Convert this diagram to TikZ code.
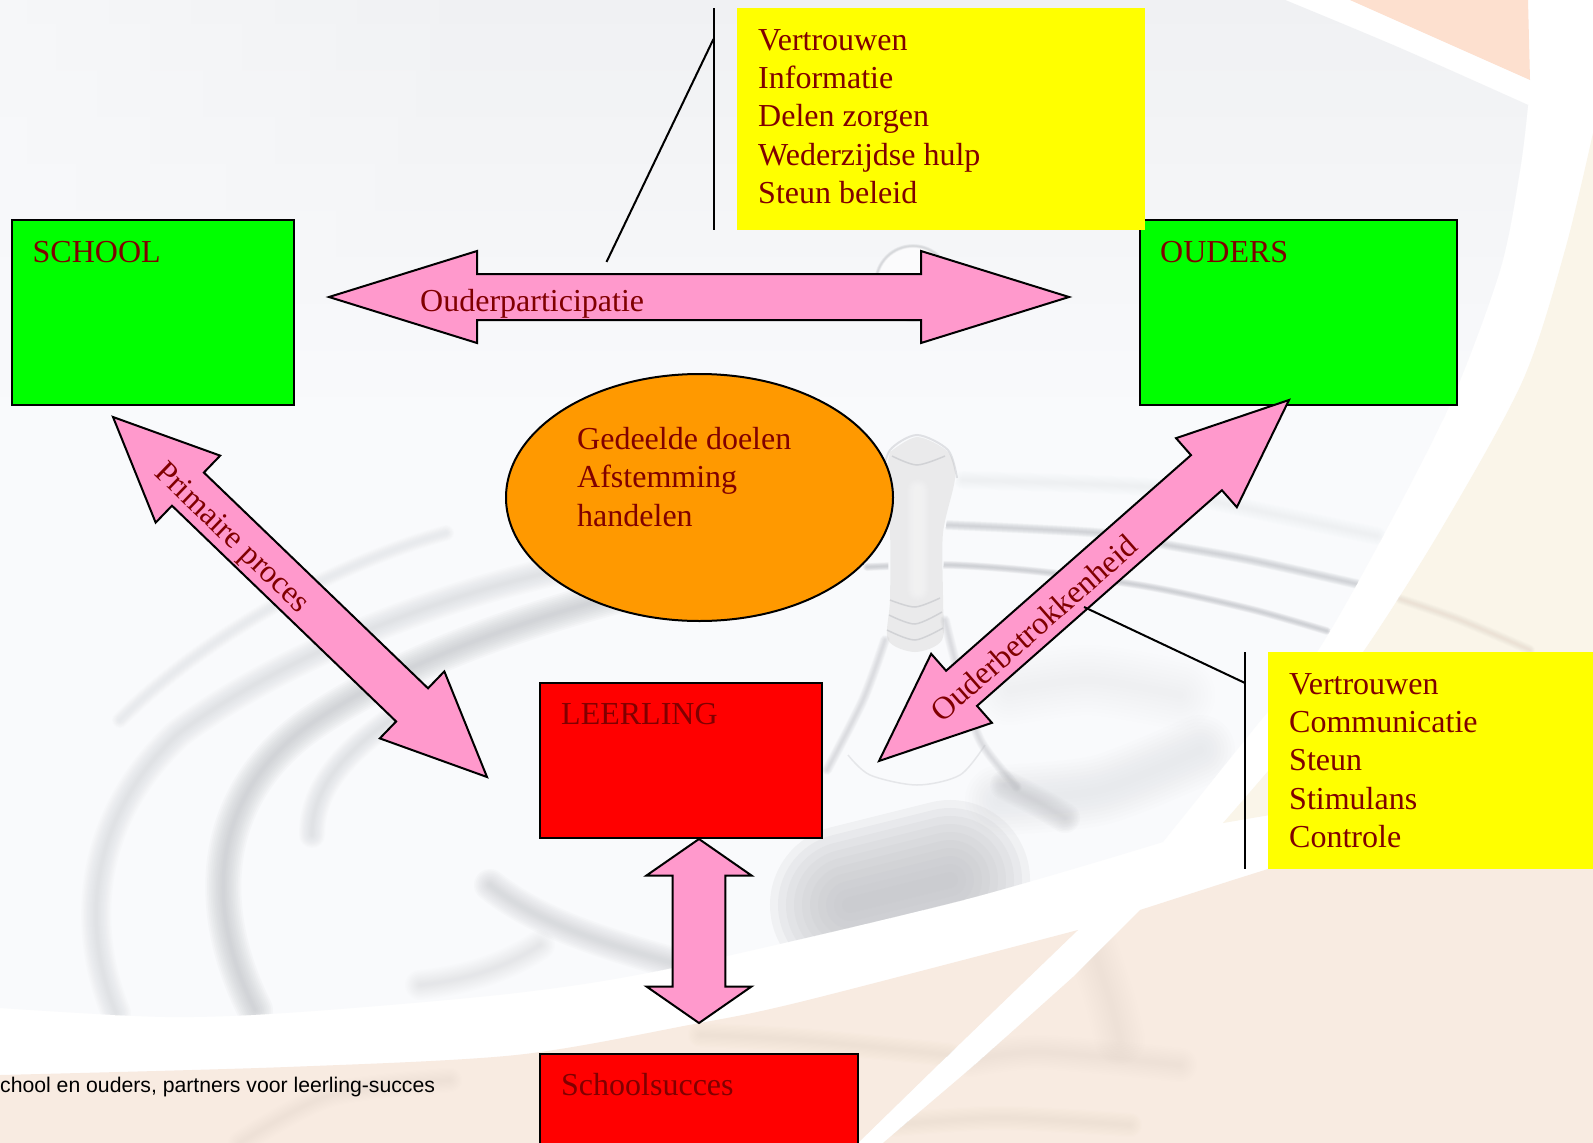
\documentclass[tikz,border=0pt]{standalone}
\usepackage{fontspec}
\setmainfont{Liberation Serif}
\newfontfamily\footfont{Liberation Sans}
\usetikzlibrary{calc,shapes.geometric,fadings}
\definecolor{tcol}{HTML}{800000}
\definecolor{pinkc}{HTML}{FF99CC}
\definecolor{greenc}{HTML}{00FF00}
\definecolor{yelc}{HTML}{FFFF00}
\definecolor{orac}{HTML}{FF9900}
\definecolor{redc}{HTML}{FF0000}
\definecolor{grayt}{HTML}{F0F1F3}
\definecolor{graym}{HTML}{F9FAFC}
\definecolor{paled}{HTML}{FAF5E9}
\definecolor{peachb}{HTML}{F8EBE1}
\definecolor{peacht}{HTML}{FDE0CF}
\definecolor{streak}{HTML}{DFCFC2}
\definecolor{rip}{HTML}{B9BBC0}
\definecolor{dark}{HTML}{C6C7CB}
\tikzset{
  box/.style={draw=black,line width=2pt,inner sep=0pt,outer sep=0pt,anchor=north west},
  note/.style={fill=yelc,inner sep=0pt,outer sep=0pt,anchor=north west},
  lbl/.style={text=tcol,inner sep=0pt,font=\fontsize{32}{38.4}\selectfont,anchor=base west},
  slantlbl/.style={text=tcol,inner sep=0pt,font=\fontsize{32}{38.4}\selectfont,anchor=center},
  blockarrow/.style={draw=black,fill=pinkc,line width=2pt,line join=miter},
  leader/.style={draw=black,line width=2pt},
}
% soft (blurred) stroke: colour, width, opacity per level, path
\newcommand{\softline}[4]{\foreach \f in {1,.9,.8,.7,.6,.5,.4,.3,.2,.1}{\draw[color=#1,line width=\f*#2,opacity=#3,line cap=round,line join=round] #4;}}
% double block arrow between two named coordinates
\newcommand{\dblarrow}[5]{%
  \coordinate (#1-p) at ($(#1)!#5!(#2)$);
  \coordinate (#1-q) at ($(#2)!#5!(#1)$);
  \draw[blockarrow] (#1) -- ($(#1-p)!#4!90:(#1)$) -- ($(#1-p)!#3!90:(#1)$)
    -- ($(#1-q)!#3!-90:(#2)$) -- ($(#1-q)!#4!-90:(#2)$) -- (#2)
    -- ($(#1-q)!#4!90:(#2)$) -- ($(#1-q)!#3!90:(#2)$)
    -- ($(#1-p)!#3!-90:(#1)$) -- ($(#1-p)!#4!-90:(#1)$) -- cycle;}
\begin{document}
\begin{tikzpicture}[x=1pt,y=-1pt]
\useasboundingbox (0,0) rectangle (1593,1143);
\clip (0,0) rectangle (1593,1143);
\fill[white] (0,0) rectangle (1593,1143);

% --- background: peach and pale areas
\fill[peacht] (1350,0) -- (1528,0) -- (1530,80) -- cycle;
\begin{scope}
\clip plot[smooth] coordinates {(1593,133)(1565,250)(1523,380)(1443,526)(1363,652)(1290,745)(1223,823)} -- (1593,760) -- cycle;
\fill[paled] (1200,100) rectangle (1593,900);
\softline{streak}{10pt}{.05}{plot[smooth] coordinates {(1400,599)(1460,620)(1530,650)}}
\end{scope}
\begin{scope}
\clip (0,1075) -- plot[smooth] coordinates {(0,1075)(287,1067)(516,1055)(689,1025)(800,1002)(1078,930)} -- (940,1063) -- (858,1143) -- (0,1143) -- cycle;
\fill[peachb] (0,900) rectangle (1100,1143);
\softline{streak}{24pt}{.035}{plot[smooth] coordinates {(700,1035)(800,1040)(950,1055)}}
\softline{streak}{24pt}{.02}{plot[smooth] coordinates {(240,1143)(330,1095)(450,1080)}}
\end{scope}
\begin{scope}
\clip (883,1143) -- (977,1063) -- (1073,977) -- (1140,910) -- (1233,880) -- (1268,869) -- (1593,760) -- (1593,1143) -- cycle;
\fill[peachb] (850,760) rectangle (1593,1143);
\softline{streak}{34pt}{.03}{plot[smooth] coordinates {(970,1060)(1040,1052)(1180,1065)}}
\softline{streak}{24pt}{.035}{plot[smooth] coordinates {(890,1125)(1000,1118)(1130,1125)}}
\softline{streak}{50pt}{.015}{plot[smooth] coordinates {(1090,940)(1110,1000)(1120,1040)}}
\end{scope}

% --- grey water surface
\begin{scope}
\clip (0,0) -- plot[smooth] coordinates {(1285,0)(1400,48)(1528,105)} -- plot[smooth] coordinates {(1528,105)(1520,170)(1500,270)(1450,404)(1383,536)(1317,652)(1257,725)(1163,842)} -- plot[smooth] coordinates {(1163,842)(963,900)(672,968)(516,993)(300,1012)(166,1017)(0,1008)} -- cycle;
\fill[graym] (0,0) rectangle (1593,1143);
\shade[top color=grayt,bottom color=graym] (0,0) rectangle (1593,420);
\fill[graym,path fading=east,opacity=.7] (0,0) rectangle (520,420);
% ripples, left
\softline{rip}{30pt}{.04}{(116,1013) .. controls (82,930) and (85,820) .. (179,733) .. controls (270,665) and (420,600) .. (560,570)}
\softline{rip}{36pt}{.075}{(255,1010) .. controls (200,900) and (215,790) .. (312,723) .. controls (390,670) and (500,625) .. (640,590)}
\softline{rip}{26pt}{.04}{(312,835) .. controls (312,790) and (340,745) .. (440,690)}
\softline{rip}{16pt}{.02}{(120,720) .. controls (200,640) and (330,565) .. (446,533)}
\softline{rip}{32pt}{.055}{(490,885) .. controls (540,925) and (610,945) .. (680,965)}
\softline{rip}{30pt}{.025}{(420,985) .. controls (470,980) and (510,965) .. (540,945)}
% ripples, right
\softline{rip}{10pt}{.08}{plot[smooth] coordinates {(947,525)(1100,533)(1167,545)(1250,560)(1357,584)}}
\softline{rip}{8pt}{.09}{plot[smooth] coordinates {(867,567)(950,565)(1043,572)(1150,587)(1250,609)(1327,631)}}
\softline{rip}{18pt}{.015}{plot[smooth] coordinates {(963,480)(1147,487)(1217,502)(1377,536)}}
\softline{rip}{70pt}{.012}{plot[smooth] coordinates {(1010,690)(1090,680)(1180,695)}}
\softline{rip}{70pt}{.02}{plot[smooth] coordinates {(1000,800)(1100,790)(1200,750)}}
% second, faint bulb at top
\fill[white,opacity=.6] (913,283) circle[radius=36pt];
\softline{rip}{4pt}{.06}{(913,283) circle[radius=37pt]}
% droplet base
\softline{dark}{160pt}{.17}{(850,905) -- (950,880)}
\softline{dark}{30pt}{.08}{plot[smooth] coordinates {(1005,785)(1040,803)(1065,818)}}
% droplet column
\fill[graym] plot[smooth] coordinates {(882,478)(888,533)(888,600)(885,640)(863,700)(838,752)} -- plot[smooth] coordinates {(838,752)(870,775)(917,785)(960,775)(985,745)} -- plot[smooth] coordinates {(985,745)(965,690)(945,620)(945,533)(957,478)} -- plot[smooth] coordinates {(957,478)(948,450)(917,435)(890,450)(882,478)} -- cycle;
\fill[black!13,opacity=.55] plot[smooth] coordinates {(884,478)(890,533)(890,600)(888,640)(915,652)(942,640)(943,600)(943,533)(955,478)(948,452)(917,437)(890,452)} -- cycle;
\softline{white}{22pt}{.07}{(918,490) -- (918,590)}
\softline{rip}{10pt}{.05}{plot[smooth] coordinates {(885,640)(863,700)(827,770)}}
\softline{rip}{10pt}{.05}{plot[smooth] coordinates {(945,620)(957,667)(980,740)(1017,787)}}
\draw[rip,line width=2pt,opacity=.4] plot[smooth] coordinates {(882,478)(890,450)(917,435)(948,450)(957,478)};
\draw[rip,line width=1.5pt,opacity=.5] plot[smooth] coordinates {(890,600)(915,607)(940,598)};
\draw[rip,line width=1.5pt,opacity=.5] plot[smooth] coordinates {(889,615)(915,624)(942,612)};
\draw[rip,line width=1.5pt,opacity=.5] plot[smooth] coordinates {(887,630)(915,640)(943,628)};
\draw[rip,line width=1.5pt,opacity=.5] plot[smooth] coordinates {(892,456)(917,465)(945,456)};
\draw[rip,line width=1.5pt,opacity=.3] plot[smooth] coordinates {(848,755)(870,775)(917,785)(960,775)(985,745)};
\end{scope}

% --- footer text
\node[inner sep=0pt,anchor=base west,font=\footfont\fontsize{21.2}{24}\selectfont,text=black] (footer) at (0,1092) {chool en ouders, partners voor leerling-succes};

% --- leaders
\coordinate (barAtop) at (713.5,8);
\coordinate (barAbot) at (713.5,230);
\coordinate (barAmid) at (713.5,39);
\coordinate (barAend) at (606.5,262);
\draw[leader] (barAtop) -- (barAbot);
\draw[leader] (barAmid) -- (barAend);
\coordinate (barBtop) at (1245,652);
\coordinate (barBbot) at (1245,869);
\coordinate (barBmid) at (1245,683);
\coordinate (barBend) at (1084,607);
\draw[leader] (barBtop) -- (barBbot);

% --- boxes
\node[box,fill=greenc,minimum width=282pt,minimum height=185.5pt] (school) at (12,219.5) {};
\node[box,fill=greenc,minimum width=317pt,minimum height=185.5pt] (ouders) at (1139.5,219.5) {};
\node[box,fill=redc,minimum width=282pt,minimum height=155pt] (leerling) at (540,683) {};
\node[box,fill=redc,minimum width=318pt,minimum height=120pt] (succes) at (540,1054) {};
\node[note,minimum width=408pt,minimum height=222pt] (noteA) at (737,8) {};
\node[note,minimum width=325pt,minimum height=217pt] (noteB) at (1268,652) {};
\node[draw=black,fill=orac,line width=2pt,ellipse,inner sep=0pt,outer sep=0pt,minimum width=387pt,minimum height=247pt] (doel) at (699.5,497.5) {};

% --- block arrows
\coordinate (aL) at (329,297);
\coordinate (aR) at (1069,297);
\dblarrow{aL}{aR}{23pt}{46pt}{148pt}
\coordinate (bS) at (113,417);
\coordinate (bL) at (487,777);
\dblarrow{bS}{bL}{23pt}{46.5pt}{104pt}
\coordinate (cO) at (1289,400);
\coordinate (cL) at (879,761);
\dblarrow{cO}{cL}{23.4pt}{46pt}{110pt}
\coordinate (dT) at (699,839);
\coordinate (dB) at (699,1023);
\dblarrow{dT}{dB}{26.4pt}{52.5pt}{36.5pt}
\draw[leader] (barBmid) -- (barBend);

% --- labels
\node[lbl] (tSchool) at (32.5,262) {SCHOOL};
\node[lbl] (tOuders) at (1160,262) {OUDERS};
\node[lbl] (tLeer) at (561,724.5) {LEERLING};
\node[lbl] (tSucc) at (561,1095.5) {Schoolsucces};
\node[lbl] (tPart) at (420,311) {Ouderparticipatie};
\foreach \n/\y/\t in {a/50/Vertrouwen,b/88.3/Informatie,c/126.6/Delen zorgen,d/165/Wederzijdse hulp,e/203.3/Steun beleid}
  \node[lbl] (tA\n) at (758,\y) {\t};
\foreach \n/\y/\t in {a/694/Vertrouwen,b/732.3/Communicatie,c/770.6/Steun,d/809/Stimulans,e/847.3/Controle}
  \node[lbl] (tB\n) at (1289,\y) {\t};
\foreach \n/\y/\t in {a/449/Gedeelde doelen,b/487.5/Afstemming,c/526/handelen}
  \node[lbl] (tC\n) at (577,\y) {\t};
\node[slantlbl,rotate=-43.9] (tPrim) at (231,539) {Primaire proces};
\node[slantlbl,rotate=41.4] (tBetr) at (1034,628) {Ouderbetrokkenheid};
\end{tikzpicture}
\end{document}
